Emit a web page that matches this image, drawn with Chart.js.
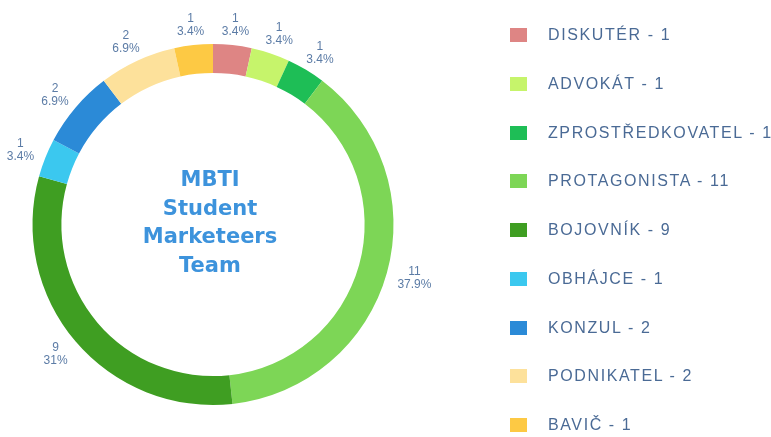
<!DOCTYPE html>
<html>
<head>
<meta charset="utf-8">
<script src="https://cdn.jsdelivr.net/npm/chart.js@4"></script>
<style>
  body { margin: 0; background: #fff; }
  #wrap { position: relative; width: 771px; height: 437px; overflow: hidden; }
  #legend { position: absolute; left: 0; top: 0; }
  .item { position: absolute; left: 510px; height: 20px; display: flex; align-items: center;
          font-family: "Liberation Sans", Arial, sans-serif; font-size: 16px; letter-spacing: 1.6px;
          color: #4a6a95; white-space: nowrap; }
  .box { width: 17px; height: 14px; margin-right: 21px; }
</style>
</head>
<body>
<div id="wrap">
  <canvas id="mbtiChart" width="771" height="437"></canvas>
  <div id="legend"></div>
</div>
<script>
// typy a počty
const types = ['DISKUTÉR', 'ADVOKÁT', 'ZPROSTŘEDKOVATEL', 'PROTAGONISTA', 'BOJOVNÍK', 'OBHÁJCE', 'KONZUL', 'PODNIKATEL', 'BAVIČ'];
const counts = [1, 1, 1, 11, 9, 1, 2, 2, 1];
const colors = ['#de8584', '#c6f46b', '#1ebe56', '#7dd656', '#3f9e22', '#3bc8ef', '#2b8ad7', '#fde19b', '#fdc944'];
const centerLines = ['MBTI', 'Student', 'Marketeers', 'Team'];

const total = counts.reduce((a, b) => a + b, 0);

// legenda vpravo
const legend = document.getElementById('legend');
for (let i = 0; i < types.length; i++) {
    const row = document.createElement('div');
    row.className = 'item';
    row.style.top = (35 + i * 48.75 - 10) + 'px';
    row.innerHTML = '<span class="box" style="background:' + colors[i] + '"></span>' + types[i] + ' - ' + counts[i];
    legend.appendChild(row);
}

// popisky hodnot kolem prstence
const sliceLabels = {
    id: 'sliceLabels',
    afterDatasetsDraw(chart) {
        const ctx = chart.ctx;
        const meta = chart.getDatasetMeta(0);
        ctx.save();
        ctx.fillStyle = '#5c7ca6';
        ctx.font = '12px "Liberation Sans", Arial, sans-serif';
        ctx.textAlign = 'center';
        ctx.textBaseline = 'middle';
        meta.data.forEach((arc, i) => {
            const p = arc.getProps(['x', 'y', 'startAngle', 'endAngle', 'outerRadius'], true);
            const mid = (p.startAngle + p.endAngle) / 2;
            const pct = (counts[i] / total * 100).toFixed(1).replace(/\.0$/, '');
            const w = ctx.measureText(pct + '%').width;
            const r = p.outerRadius + 20;
            const x = p.x + Math.cos(mid) * (r + w * 0.25);
            const y = p.y + Math.sin(mid) * r;
            ctx.fillText(String(counts[i]), x, y - 6.5);
            ctx.fillText(pct + '%', x, y + 6.5);
        });
        ctx.restore();
    }
};

// text uprostřed
const centerText = {
    id: 'centerText',
    afterDraw(chart) {
        const ctx = chart.ctx;
        const arc = chart.getDatasetMeta(0).data[0];
        ctx.save();
        ctx.fillStyle = '#3d93dc';
        ctx.font = 'bold 21px "DejaVu Sans", sans-serif';
        ctx.textAlign = 'center';
        ctx.textBaseline = 'middle';
        const start = arc.y - 1.5 * 28.5 - 1;
        centerLines.forEach((t, i) => {
            ctx.fillText(t, arc.x - 3, start + i * 28.5);
        });
        ctx.restore();
    }
};

new Chart(document.getElementById('mbtiChart'), {
    type: 'doughnut',
    data: {
        labels: types,
        datasets: [{
            data: counts,
            backgroundColor: colors,
            borderWidth: 0,
            hoverOffset: 0
        }]
    },
    options: {
        responsive: false,
        animation: false,
        cutout: '84%',
        layout: { padding: { left: 32, right: 377, top: 44, bottom: 32 } },
        plugins: {
            legend: { display: false },
            tooltip: { enabled: false }
        }
    },
    plugins: [sliceLabels, centerText]
});
</script>
</body>
</html>
